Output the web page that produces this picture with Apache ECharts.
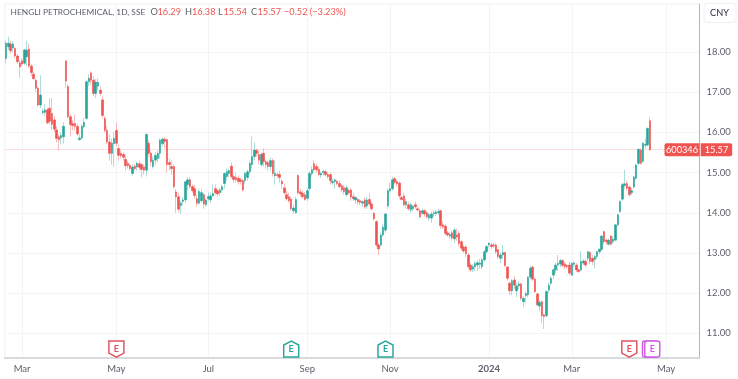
<!DOCTYPE html>
<html><head><meta charset="utf-8">
<style>html,body{margin:0;padding:0;background:#fff}#c{width:738px;height:379px;filter:blur(.35px)}</style>
<script src="https://cdn.jsdelivr.net/npm/echarts@6/dist/echarts.min.js"></script>
</head><body><div id="c"></div>
<script>
// Each row: open, close, low, high
const candlesFebApr = [
[17.84,18.22,17.72,18.28],[18.13,18.22,18.05,18.38],[18.2,18.03,17.95,18.27],[18.1,18.2,18.0,18.27],[18.09,17.9,17.85,18.12],
[17.9,17.76,17.7,17.95],[17.73,17.63,17.35,17.8],[17.78,17.7,17.65,17.85],[17.72,18.05,17.68,18.08],[17.88,18.05,17.65,18.28],
[18.07,17.65,17.6,18.2],[17.65,17.49,17.4,17.7],[17.45,17.34,17.3,17.5],[17.3,17.1,17.0,17.35],[17.1,16.68,16.65,17.15],
[16.68,16.93,16.6,17.42],[16.49,16.53,16.45,16.6],[16.5,16.56,16.4,16.7],[16.56,16.24,16.2,16.62],[16.6,16.28,16.2,16.85],
[16.47,16.2,16.05,16.85],[16.31,16.08,16.0,16.4],[16.06,15.85,15.75,16.15],[15.89,15.82,15.55,15.95],[15.86,15.92,15.7,16.0],
[15.89,16.15,15.72,16.25],[17.78,17.28,17.1,17.78],[17.14,16.39,16.35,17.2],[16.39,16.2,15.9,16.45],[16.22,16.17,16.05,16.3],
[16.22,16.15,16.05,16.45],[16.15,15.96,15.9,16.22],[15.82,15.86,15.8,15.95],[15.86,16.15,15.82,16.2],[16.14,16.25,16.1,16.35],
[16.35,17.26,16.3,17.3],[17.26,17.35,17.15,17.45],[17.48,17.3,17.2,17.52],[17.3,16.97,16.9,17.4],[16.97,17.25,16.85,17.33]];
const candlesMayJun = [
[17.15,17.25,17.05,17.35],[17.05,16.97,16.9,17.15],[16.81,16.42,16.35,16.9],[16.35,16.05,16.0,16.4],[16.05,15.76,15.7,16.15],
[15.76,15.48,15.3,15.95],[15.48,15.73,15.2,15.85],[15.72,15.85,15.15,16.0],[16.05,15.73,15.65,16.25],[15.6,15.43,15.3,15.7],
[15.48,15.42,15.35,15.55],[15.45,15.38,15.3,15.5],[15.33,15.17,15.05,15.45],[15.23,15.17,15.1,15.3],[15.18,15.1,15.05,15.22],
[14.98,15.14,14.92,15.2],[15.16,15.1,15.05,15.22],[15.14,15.23,15.05,15.28],[15.22,15.13,15.05,15.3],[15.2,15.08,14.88,15.25],
[15.14,15.06,14.95,15.2],[15.06,15.95,14.9,15.97],[15.73,15.48,15.4,15.8],[15.48,15.27,15.15,15.55],[15.15,15.31,15.1,15.4],
[15.31,15.43,15.2,15.5],[15.35,15.48,15.25,15.55],[15.48,15.81,15.35,15.85],[15.72,15.83,15.65,15.88],[15.83,15.78,15.6,15.88],
[15.82,15.2,15.0,15.85],[15.25,15.2,15.05,15.35],[15.15,15.1,14.95,15.3],[15.15,14.65,14.6,15.2],[14.52,14.4,14.0,14.6],
[14.4,14.09,14.0,14.5],[14.18,14.24,13.97,14.3],[14.28,14.32,14.2,14.4],[14.32,14.77,14.25,14.8],[14.7,14.82,14.55,14.88]];
const candlesJulAug = [
[14.82,14.65,14.6,14.88],[14.65,14.55,14.5,14.7],[14.6,14.43,14.35,14.7],[14.35,14.24,14.15,14.45],[14.24,14.53,14.2,14.6],
[14.3,14.5,14.25,14.6],[14.45,14.22,14.1,14.5],[14.2,14.32,14.15,14.35],[14.35,14.4,14.3,14.5],[14.32,14.42,14.25,14.5],
[14.42,14.48,14.4,14.7],[14.6,14.5,14.45,14.7],[14.55,14.47,14.4,14.6],[14.5,14.57,14.42,14.62],[14.57,14.65,14.5,14.7],
[14.73,14.98,14.6,15.0],[14.9,15.03,14.8,15.1],[14.98,15.05,14.9,15.1],[15.16,14.9,14.85,15.25],[14.9,14.83,14.75,14.95],
[14.88,14.82,14.75,15.0],[14.86,14.78,14.7,14.92],[14.82,14.78,14.7,14.88],[14.8,14.57,14.53,14.85],[14.8,14.98,14.72,15.02],
[14.88,15.02,14.8,15.08],[15.02,15.23,14.95,15.3],[15.2,15.4,15.1,15.9],[15.4,15.56,15.3,15.75],[15.55,15.48,15.4,15.6],
[15.45,15.31,15.2,15.55],[15.2,15.45,15.15,15.5],[15.48,15.27,15.15,15.6],[15.27,15.2,15.1,15.32],[15.25,15.15,15.05,15.3],
[15.15,15.3,15.05,15.38],[15.3,14.98,14.9,15.35],[14.92,14.98,14.7,15.3],[14.95,14.93,14.85,15.0],[14.95,14.88,14.75,15.05]];
const candlesSepOct = [
[14.78,14.72,14.6,14.85],[14.62,14.5,14.45,14.72],[14.45,14.35,14.3,14.55],[14.4,14.3,14.25,14.5],[14.34,14.1,14.05,14.4],
[14.05,14.12,13.98,14.2],[14.0,14.33,13.98,14.4],[14.93,14.5,14.45,14.95],[14.52,14.47,14.4,14.6],[14.48,14.4,14.35,14.55],
[14.45,14.33,14.3,14.52],[14.36,14.55,14.3,14.6],[14.6,14.98,14.55,15.03],[14.98,15.07,14.9,15.15],[15.22,15.07,15.0,15.32],
[15.15,15.07,15.0,15.22],[15.08,14.95,14.9,15.15],[14.94,14.98,14.88,15.02],[15.0,15.03,14.92,15.07],[15.02,14.95,14.9,15.08],
[14.95,14.9,14.85,15.02],[14.95,14.8,14.7,15.0],[14.75,14.78,14.7,14.85],[14.78,14.82,14.6,14.85],[14.78,14.73,14.68,14.82],
[14.73,14.65,14.6,14.8],[14.67,14.57,14.5,14.72],[14.62,14.53,14.45,14.7],[14.45,14.62,14.4,14.68],[14.55,14.5,14.45,14.6],
[14.57,14.39,14.3,14.62],[14.4,14.35,14.3,14.5],[14.32,14.38,14.22,14.4],[14.33,14.27,14.2,14.38],[14.3,14.26,14.2,14.35],
[14.24,14.28,14.15,14.3],[14.32,14.15,14.1,14.38],[14.17,14.32,14.1,14.4],[14.33,14.22,14.15,14.48],[14.22,14.1,14.05,14.28]];
const candlesNovDec = [
[13.99,13.85,13.8,14.02],[13.78,13.2,13.15,13.82],[13.2,13.1,12.95,13.25],[13.2,13.45,13.15,13.5],[13.45,13.64,13.4,13.7],
[13.57,13.97,13.5,14.0],[14.17,14.55,14.1,14.6],[14.55,14.6,14.5,14.75],[14.6,14.82,14.55,14.9],[14.85,14.76,14.7,14.9],
[14.78,14.72,14.65,14.83],[14.74,14.42,14.35,14.78],[14.38,14.33,14.3,14.42],[14.42,14.2,14.15,14.5],[14.2,14.28,14.1,14.35],
[14.2,14.1,14.05,14.28],[14.07,14.2,14.0,14.25],[14.1,14.16,14.05,14.2],[14.2,14.15,14.1,14.28],[14.1,14.07,14.03,14.15],
[14.05,13.9,13.85,14.1],[13.99,14.05,13.95,14.1],[14.05,13.97,13.9,14.1],[14.0,13.9,13.85,14.05],[13.87,13.95,13.8,14.0],
[13.87,13.97,13.75,14.02],[13.98,14.0,13.9,14.05],[13.98,14.02,13.92,14.07],[14.0,14.03,13.95,14.1],[14.05,13.68,13.6,14.08],
[13.7,13.65,13.6,13.78],[13.67,13.49,13.42,13.72],[13.5,13.45,13.4,13.55],[13.42,13.46,13.35,13.5],[13.5,13.37,13.3,13.55],
[13.35,13.57,13.25,13.62],[13.45,13.4,13.3,13.6],[13.49,13.24,13.15,13.55],[13.28,13.12,13.05,13.32],[13.15,13.05,13.0,13.2]];
const candlesJanFeb = [
[13.15,12.98,12.9,13.2],[12.95,12.66,12.6,13.0],[12.7,12.58,12.52,12.75],[12.6,12.66,12.52,12.72],[12.66,12.74,12.55,12.8],
[12.7,12.76,12.55,12.82],[12.72,12.75,12.6,12.85],[12.66,12.83,12.6,12.88],[12.83,13.03,12.78,13.08],[13.03,13.16,12.98,13.2],
[13.2,13.24,13.14,13.27],[13.2,13.16,13.1,13.26],[13.2,13.18,13.12,13.24],[13.2,13.03,12.98,13.24],[13.08,12.91,12.85,13.1],
[12.87,12.95,12.75,13.0],[12.95,13.01,12.85,13.2],[13.01,12.69,12.65,13.03],[12.65,12.37,12.3,12.68],[12.25,12.06,11.95,12.3],
[12.06,12.31,11.95,12.35],[12.33,12.2,12.1,12.42],[12.06,12.18,11.9,12.24],[12.18,12.23,12.1,12.3],[12.23,11.87,11.82,12.26],
[11.79,11.87,11.65,11.92],[11.94,11.99,11.75,12.05],[11.96,12.4,11.9,12.42],[12.4,12.62,12.35,12.68],[12.65,12.35,12.3,12.68],
[12.35,12.04,12.0,12.38],[11.98,11.71,11.68,12.02],[11.68,11.77,11.55,11.82],[11.79,11.44,11.25,11.82],[11.46,11.42,11.11,11.5]];
const candlesFebApr24 = [
[11.44,12.04,11.4,12.08],[12.08,12.2,12.0,12.26],[12.25,12.37,12.2,12.42],[12.45,12.58,12.35,12.62],[12.58,12.7,12.5,12.75],
[12.7,12.74,12.55,12.95],[12.73,12.81,12.65,12.85],[12.81,12.69,12.65,12.85],[12.73,12.66,12.6,12.78],[12.69,12.66,12.6,12.72],
[12.7,12.5,12.45,12.78],[12.45,12.74,12.42,12.78],[12.72,12.75,12.65,12.8],[12.7,12.58,12.52,12.75],[12.58,12.54,12.5,12.62],
[12.58,12.79,12.55,13.05],[12.75,12.8,12.7,12.85],[12.79,12.7,12.65,12.85],[12.87,13.03,12.8,13.05],[13.01,12.79,12.72,13.05],
[12.87,12.79,12.7,12.95],[12.84,12.91,12.62,12.95],[12.91,13.03,12.85,13.06],[13.03,13.09,12.98,13.12],[13.09,13.42,13.05,13.45],
[13.53,13.28,13.22,13.56],[13.32,13.28,13.2,13.36],[13.22,13.32,13.18,13.36],[13.42,13.22,13.18,13.45],[13.28,13.34,13.22,13.42],
[13.32,13.7,13.3,13.72],[13.7,13.95,13.66,13.98],[14.03,14.28,14.0,14.32],[14.34,14.7,14.3,14.75],[14.68,14.72,14.6,15.07],
[14.73,14.61,14.55,14.8],[14.64,14.45,14.4,14.68],[14.5,14.55,14.45,14.62],[14.64,14.89,14.6,14.92],[14.86,15.19,14.82,15.22],
[15.23,15.58,15.18,15.6],[15.56,15.23,15.2,15.6],[15.28,15.73,15.25,15.75],[15.68,15.7,15.6,15.85],[15.69,16.1,15.65,16.12],
[16.29,15.57,15.54,16.38]];
const candles = [...candlesFebApr,...candlesMayJun,...candlesJulAug,...candlesSepOct,...candlesNovDec,...candlesJanFeb,...candlesFebApr24];

const totalSlots = 302;
const xTickSlots = [7,48,88,131,167,210,246,287];
const xTickNames = ['Mar','May','Jul','Sep','Nov','2024','Mar','May'];
const yTicks = [11,12,13,14,15,16,17,18];
const lastClose = 15.57;
const headerName = 'HENGLI PETROCHEMICAL, 1D, SSE';
const earningsRed = [[48,10.61],[271,10.61]];
const earningsGreen = [[124,10.61],[165,10.61]];
const earningsPurple = [[280,10.61],[281,10.61]];

const categories = Array.from({length: totalSlots}, () => '');
xTickSlots.forEach((s, i) => { categories[s] = xTickNames[i]; });

const RED = '#ef5350', GREEN = '#26a69a';
const FONT = 'Lato,"Open Sans",sans-serif';
const TXT = '#5d606b';
const SIZE = '9.2px ';
const shieldDown = 'path://M1,1 H15 V11.5 L8,15 L1,11.5 Z';
const shieldUp = 'path://M1,15 V4.5 L8,1 L15,4.5 V15 Z';
const rounded = 'path://M3,1 H13 Q15,1 15,3 V13 Q15,15 13,15 H3 Q1,15 1,13 V3 Q1,1 3,1 Z';

function earn(data, sym, col, z) {
  return {type:'scatter', data, symbol:sym, symbolSize:[15,16], silent:true, clip:false, z:z||5,
    itemStyle:{color:'#fff', borderColor:col, borderWidth:1.5, opacity:1},
    label:{show:true, position:'inside', formatter:'E', color:col, fontSize:9, fontWeight:'bold', fontFamily:FONT}};
}
function headerPiece(x, text, fill, size) {
  return {type:'text', x, y:12.5, style:{text, fill, font:(size||SIZE)+FONT, textVerticalAlign:'middle'}};
}

const chart = echarts.init(document.getElementById('c'), null, {renderer:'canvas'});
chart.setOption({
  animation:false,
  backgroundColor:'#fff',
  grid:{left:4.85, width:694.6, top:4, height:354, show:true, borderColor:'#eef0f4', borderWidth:1},
  xAxis:{type:'category', data:categories, boundaryGap:true, position:'bottom',
    axisLine:{show:true, lineStyle:{color:'#d9dade', width:2}}, axisTick:{show:false},
    axisLabel:{interval:(i,v)=>v!=='', margin:6, fontSize:9.5, color:TXT, fontFamily:FONT, hideOverlap:false,
      formatter:v=>v==='2024'?'{b|2024}':v, rich:{b:{fontWeight:'bold', fontSize:9.5, color:TXT, fontFamily:FONT}}},
    splitLine:{show:true, interval:(i,v)=>v!=='', alignWithLabel:true, lineStyle:{color:'#f3f4f8', width:1}}},
  yAxis:{type:'value', position:'right', min:10.388, max:19.194, scale:true,
    axisLine:{show:true, lineStyle:{color:'#b2b5be', width:1}},
    axisTick:{show:false, customValues:yTicks},
    axisLabel:{customValues:yTicks, margin:7, fontSize:9.5, color:TXT, fontFamily:FONT, formatter:v=>v.toFixed(2)},
    splitLine:{show:true, lineStyle:{color:'#f3f4f8', width:1}}},
  series:[
    {type:'candlestick', name:'wicks', barWidth:1, silent:true, z:2,
     data:candles,
     itemStyle:{color:'rgba(38,166,154,0)', color0:'rgba(0,0,0,0)',
       borderColor:'rgba(38,166,154,.38)', borderColor0:'rgba(239,83,80,.38)', borderWidth:1},
     markLine:{silent:true, symbol:'none', label:{show:false}, z:1,
       lineStyle:{color:'#fbdedd', type:'solid', width:1, opacity:1}, data:[{yAxis:lastClose}]}},
    {type:'candlestick', name:'bodies', barWidth:2, silent:true, z:3,
     data:candles.map(([o,c])=>[o,c,Math.min(o,c),Math.max(o,c)]),
     itemStyle:{color:GREEN, color0:RED, borderColor:GREEN, borderColor0:RED, borderWidth:0.6}},
    earn([earningsPurple[0]], rounded, '#d05ce3', 4),
    earn([earningsPurple[1]], rounded, '#d05ce3', 6),
    earn(earningsRed, shieldDown, '#e0525e'),
    earn(earningsGreen, shieldUp, '#26a69a')
  ]
});
const tagY = chart.convertToPixel({yAxisIndex:0}, lastClose);
chart.setOption({graphic:[
  headerPiece(10.5, headerName, TXT, '8.4px '),
  headerPiece(150.5,'O',TXT), headerPiece(157.5,'16.29',RED),
  headerPiece(185,'H',TXT), headerPiece(192,'16.38',RED),
  headerPiece(218,'L',TXT), headerPiece(223.5,'15.54',RED),
  headerPiece(251,'C',TXT), headerPiece(257.5,'15.57',RED),
  headerPiece(284,'\u22120.52 (\u22123.23%)',RED),
  {type:'rect', x:704, y:3.5, shape:{width:32, height:19, r:3}, style:{fill:'#fff', stroke:'#eef0f4', lineWidth:1}},
  {type:'text', x:719.5, y:13, style:{text:'CNY', fill:'#2a2e39', font:SIZE+FONT, textAlign:'center', textVerticalAlign:'middle'}},
  {type:'rect', x:664.5, y:tagY-6.5, z:20, shape:{width:35, height:13, r:[2,0,0,2]}, style:{fill:RED}},
  {type:'rect', x:700.7, y:tagY-6.5, z:20, shape:{width:31.5, height:13, r:[0,2,2,0]}, style:{fill:RED}},
  {type:'text', x:682, y:tagY, z:21, style:{text:'600346', fill:'#fff', font:SIZE+FONT, textAlign:'center', textVerticalAlign:'middle'}},
  {type:'text', x:716.5, y:tagY, z:21, style:{text:'15.57', fill:'#fff', font:SIZE+FONT, textAlign:'center', textVerticalAlign:'middle'}}
]});
</script></body></html>
